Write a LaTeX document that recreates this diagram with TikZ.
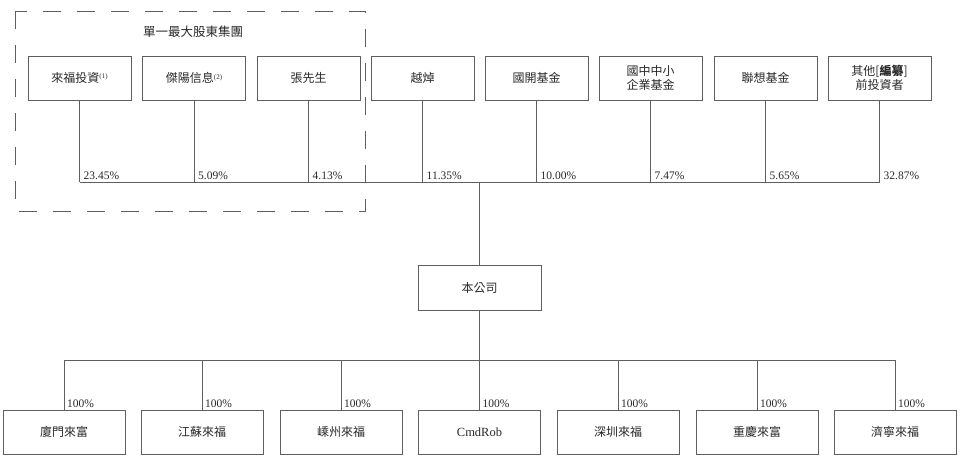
\documentclass[tikz,border=0pt]{standalone}
\usepackage{fontspec}
\setmainfont{Liberation Serif}
\newfontfamily\cjk{Noto Sans CJK TC}
\definecolor{linec}{RGB}{95,95,95}
\definecolor{txtc}{RGB}{40,40,40}
\newcommand{\supn}[1]{\raisebox{0.55ex}{\rmfamily\fontsize{7}{8}\selectfont(#1)}}
\begin{document}
\begin{tikzpicture}[x=1pt,y=-1pt,
  box/.style={draw=linec, line width=0.8pt, minimum width=103pt, minimum height=44pt, inner sep=0pt, text=txtc, font=\cjk\fontsize{12}{14.5}\selectfont, align=center},
  subbox/.style={box, minimum width=122pt},
  pct/.style={font=\fontsize{11.5}{13}\selectfont, text=txtc, anchor=base west, inner sep=0pt},
  conn/.style={draw=linec, line width=0.8pt},
  grp/.style={draw=linec, line width=0.8pt, dash pattern=on 18pt off 16pt}]
\useasboundingbox (0,0) rectangle (960,461);
% group frame
\draw[grp] (15,11) rectangle (365,211);
\node[text=txtc, font=\cjk\fontsize{12.5}{14}\selectfont] (glabel) at (193,32) {單一最大股東集團};
% shareholders
\node[box] (t1) at (79.5,78) {來福投資\supn{1}};
\node[box] (t2) at (194,78) {傑陽信息\supn{2}};
\node[box] (t3) at (308.5,78) {張先生};
\node[box] (t4) at (422.5,78) {越焯};
\node[box] (t5) at (536.5,78) {國開基金};
\node[box] (t6) at (650.5,78) {國中中小\\企業基金};
\node[box] (t7) at (765.5,78) {聯想基金};
\node[box] (t8) at (879.5,78) {其他[{\bfseries 編纂}]\\前投資者};
\coordinate (bus) at (0,182);
\foreach \i in {1,...,8} {\draw[conn] (t\i.south) -- (t\i.south |- bus);}
\draw[conn] (t1.south |- bus) -- (t8.south |- bus);
\foreach \i/\p in {1/23.45\%,2/5.09\%,3/4.13\%,4/11.35\%,5/10.00\%,6/7.47\%,7/5.65\%,8/32.87\%}
  {\node[pct] (p\i) at ([xshift=4pt]t\i.south |- 0,179) {\p};}
% company
\node[box, minimum width=123pt, minimum height=45pt] (co) at (479.5,287.5) {本公司};
\coordinate (mid) at (479.5,182);
\draw[conn] (mid) -- (co.north);
% subsidiaries
\node[subbox] (s1) at (64,432) {廈門來富};
\node[subbox] (s2) at (202,432) {江蘇來福};
\node[subbox] (s3) at (341,432) {嵊州來福};
\node[subbox, font=\fontsize{12.5}{14}\selectfont] (s4) at (479.5,432) {CmdRob};
\node[subbox] (s5) at (618,432) {深圳來福};
\node[subbox] (s6) at (757,432) {重慶來富};
\node[subbox] (s7) at (895,432) {濟寧來福};
\coordinate (bus2) at (0,360);
\draw[conn] (co.south) -- (co.south |- bus2);
\draw[conn] (s1.north |- bus2) -- (s7.north |- bus2);
\foreach \i in {1,...,7} {\draw[conn] (s\i.north |- bus2) -- (s\i.north);
  \node[pct] (q\i) at ([xshift=3pt]s\i.north |- 0,407) {100\%};}
\end{tikzpicture}
\end{document}
